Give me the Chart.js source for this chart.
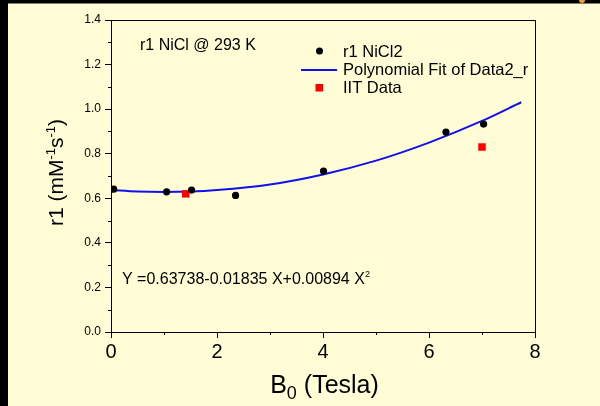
<!DOCTYPE html>
<html>
<head>
<meta charset="utf-8">
<script src="https://cdn.jsdelivr.net/npm/chart.js"></script>
<style>
  html, body { margin: 0; padding: 0; background: #000; }
  canvas { display: block; }
</style>
</head>
<body>
<canvas id="r1Chart" width="600" height="406"></canvas>
<script>
// r1 NiCl2 measurements
const nicl2X = [0.05, 1.05, 1.52, 2.35, 4.01, 6.32, 7.03];
const nicl2Y = [0.641, 0.629, 0.637, 0.613, 0.722, 0.897, 0.933];

// IIT data
const iitX = [1.41, 7.0];
const iitY = [0.620, 0.830];

// polynomial fit curve
const fitX = [0, 0.5, 1, 1.5, 2, 3, 4, 5, 6, 7, 7.74];
const fitY = [0.637, 0.630, 0.628, 0.630, 0.637, 0.662, 0.707, 0.769, 0.850, 0.947, 1.031];

// axis ticks
const xTicks = [0, 2, 4, 6, 8];
const yTicks = [0.0, 0.2, 0.4, 0.6, 0.8, 1.0, 1.2, 1.4];

const FONT = '"Liberation Sans", Arial, sans-serif';
Chart.defaults.font.family = FONT;
Chart.defaults.color = '#000';

function toPoints(xs, ys) {
    return xs.map((x, i) => ({ x: x, y: ys[i] }));
}

// draw a line of text made of parts, some raised or lowered
function drawParts(ctx, parts, x, y, align) {
    let total = 0;
    parts.forEach(p => {
        ctx.font = p.size + 'px ' + FONT;
        p.w = ctx.measureText(p.t).width;
        total += p.w;
    });
    let cx = align === 'center' ? x - total / 2 : x;
    ctx.textAlign = 'left';
    ctx.textBaseline = 'alphabetic';
    parts.forEach(p => {
        ctx.font = p.size + 'px ' + FONT;
        ctx.fillText(p.t, cx, y + (p.dy || 0));
        cx += p.w;
    });
}

const decorations = {
    id: 'decorations',
    beforeDraw(chart) {
        const ctx = chart.ctx;
        ctx.save();
        ctx.fillStyle = '#000';
        ctx.fillRect(0, 0, chart.width, chart.height);
        ctx.fillStyle = '#FFFCD6';
        ctx.fillRect(8, 3.5, chart.width - 8, chart.height - 3.5);
        // little orange mark at the top edge
        ctx.fillStyle = '#F0A030';
        ctx.beginPath();
        ctx.arc(582, 0, 3, 0, Math.PI);
        ctx.fill();
        ctx.restore();
    },
    afterDraw(chart) {
        const ctx = chart.ctx;
        const a = chart.chartArea;
        const xs = chart.scales.x;
        const ys = chart.scales.y;
        ctx.save();
        ctx.strokeStyle = '#000';
        ctx.lineWidth = 1;
        // frame
        ctx.strokeRect(Math.round(a.left) + 0.5, Math.round(a.top) + 0.5,
            Math.round(a.right - a.left), Math.round(a.bottom - a.top));
        // minor ticks
        ctx.beginPath();
        for (let v = 0.1; v < 1.4; v += 0.2) {
            const py = Math.round(ys.getPixelForValue(v)) + 0.5;
            ctx.moveTo(a.left - 3, py);
            ctx.lineTo(a.left, py);
        }
        for (let v = 1; v < 8; v += 2) {
            const px = Math.round(xs.getPixelForValue(v)) + 0.5;
            ctx.moveTo(px, a.bottom);
            ctx.lineTo(px, a.bottom + 3);
        }
        ctx.stroke();

        ctx.fillStyle = '#000';
        // annotations
        drawParts(ctx, [{ t: 'r1 NiCl @ 293 K', size: 16 }], 140, 50);
        drawParts(ctx, [
            { t: 'Y =0.63738-0.01835 X+0.00894 X', size: 16 },
            { t: '2', size: 9, dy: -7 }
        ], 122, 284);

        // legend
        ctx.beginPath();
        ctx.arc(319.5, 51, 3.5, 0, Math.PI * 2);
        ctx.fill();
        ctx.strokeStyle = '#1010F0';
        ctx.lineWidth = 2;
        ctx.beginPath();
        ctx.moveTo(301, 70);
        ctx.lineTo(337, 70);
        ctx.stroke();
        ctx.fillStyle = '#FF0000';
        ctx.fillRect(315.5, 84, 7.5, 7.5);
        ctx.fillStyle = '#000';
        drawParts(ctx, [{ t: 'r1 NiCl2', size: 16.5 }], 343, 57);
        drawParts(ctx, [{ t: 'Polynomial Fit of Data2_r', size: 16.5 }], 343, 75);
        drawParts(ctx, [{ t: 'IIT Data', size: 16.5 }], 343, 93);

        // x axis title
        drawParts(ctx, [
            { t: 'B', size: 25 },
            { t: '0', size: 18, dy: 6 },
            { t: ' (Tesla)', size: 25 }
        ], 324.5, 392.5, 'center');

        // y axis title
        ctx.translate(63, 172.5);
        ctx.rotate(-Math.PI / 2);
        drawParts(ctx, [
            { t: 'r1 (mM', size: 21 },
            { t: '-1', size: 13, dy: -8 },
            { t: 's', size: 21 },
            { t: '-1', size: 13, dy: -8 },
            { t: ')', size: 21 }
        ], 0, 0, 'center');
        ctx.restore();
    }
};

new Chart(document.getElementById('r1Chart'), {
    type: 'scatter',
    data: {
        datasets: [{
            label: 'r1 NiCl2',
            data: toPoints(nicl2X, nicl2Y),
            backgroundColor: '#000',
            borderWidth: 0,
            pointRadius: 3.6
        }, {
            label: 'IIT Data',
            data: toPoints(iitX, iitY),
            backgroundColor: '#FF0000',
            borderWidth: 0,
            pointStyle: 'rect',
            pointRadius: 5.3
        }, {
            label: 'Polynomial Fit of Data2_r',
            data: toPoints(fitX, fitY),
            showLine: true,
            borderColor: '#1010F0',
            borderWidth: 2,
            pointRadius: 0,
            cubicInterpolationMode: 'monotone'
        }]
    },
    options: {
        responsive: false,
        animation: false,
        events: [],
        layout: { padding: { left: 0, top: 20, right: 65, bottom: 0 } },
        plugins: {
            legend: { display: false },
            tooltip: { enabled: false }
        },
        scales: {
            x: {
                type: 'linear',
                min: 0,
                max: 8,
                afterFit(scale) { scale.height = 74; },
                afterBuildTicks(scale) { scale.ticks = xTicks.map(v => ({ value: v })); },
                border: { display: true, color: '#000', width: 1 },
                grid: { drawOnChartArea: false, drawTicks: true, tickLength: 6, color: '#000' },
                ticks: { font: { size: 20 }, color: '#000', padding: 2, maxRotation: 0 }
            },
            y: {
                type: 'linear',
                min: 0,
                max: 1.4,
                afterFit(scale) { scale.width = 111; },
                afterBuildTicks(scale) { scale.ticks = yTicks.map(v => ({ value: v })); },
                border: { display: true, color: '#000', width: 1 },
                grid: { drawOnChartArea: false, drawTicks: true, tickLength: 6, color: '#000' },
                ticks: {
                    font: { size: 12 },
                    color: '#000',
                    padding: 4,
                    callback: v => v.toFixed(1)
                }
            }
        }
    },
    plugins: [decorations]
});
</script>
</body>
</html>
